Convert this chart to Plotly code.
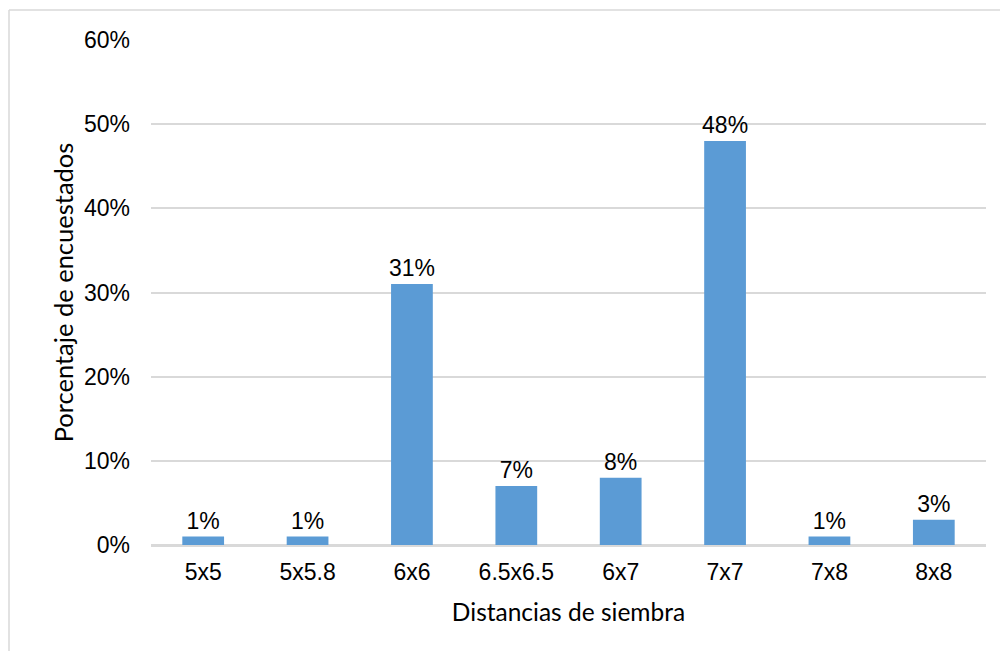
import plotly.graph_objects as go

# Survey results: planting distances used by respondents
distancias = ["5x5", "5x5.8", "6x6", "6.5x6.5", "6x7", "7x7", "7x8", "8x8"]
porcentaje = [0.01, 0.01, 0.31, 0.07, 0.08, 0.48, 0.01, 0.03]
y_ticks = [0, 0.1, 0.2, 0.3, 0.4, 0.5, 0.6]

W, H = 1000, 651
M_L, M_R, M_T, M_B = 151, 14, 40, 106
GRID = "#d9d9d9"
BAR = "#5b9bd5"
TICK_FONT = dict(family="Liberation Sans, Arial, sans-serif", size=23, color="#000000")
X_TITLE_FONT = dict(family="Lato, Calibri, sans-serif", size=24.5, color="#000000")
Y_TITLE_FONT = dict(family="Lato, Calibri, sans-serif", size=25.5, color="#000000")

fig = go.Figure(
    go.Bar(
        x=distancias,
        y=porcentaje,
        marker=dict(color=BAR, line=dict(width=0)),
        texttemplate="%{y:.0%}",
        textposition="outside",
        constraintext="none",
        textfont=TICK_FONT,
        cliponaxis=False,
        hoverinfo="skip",
    )
)

plot_w = W - M_L - M_R
plot_h = H - M_T - M_B


def px_x(px):
    return (px - M_L) / plot_w


def px_y(py):
    return 1 - (py - M_T) / plot_h


# Thin frame around the chart (top and left edges)
frame = dict(color=GRID, width=1.5)
fig.add_shape(type="line", xref="paper", yref="paper",
              x0=px_x(9), x1=px_x(W + 5), y0=px_y(10), y1=px_y(10), line=frame)
fig.add_shape(type="line", xref="paper", yref="paper",
              x0=px_x(9), x1=px_x(9), y0=px_y(10), y1=px_y(H + 5), line=frame)

fig.update_layout(
    width=W,
    height=H,
    margin=dict(l=M_L, r=M_R, t=M_T, b=M_B),
    paper_bgcolor="#ffffff",
    plot_bgcolor="#ffffff",
    bargap=0.6,
    showlegend=False,
    xaxis=dict(
        title=dict(text="Distancias de siembra", font=X_TITLE_FONT, standoff=20),
        tickfont=TICK_FONT,
        showgrid=False,
        showline=True,
        linecolor=GRID,
        linewidth=1.5,
        ticks="",
        ticklabelstandoff=6,
    ),
    yaxis=dict(
        title=dict(text="Porcentaje de encuestados", font=Y_TITLE_FONT, standoff=3),
        tickfont=TICK_FONT,
        range=[0, 0.6],
        tickvals=y_ticks,
        tickformat=".0%",
        showgrid=True,
        gridcolor=GRID,
        gridwidth=1.5,
        zeroline=True,
        zerolinecolor=GRID,
        zerolinewidth=1.5,
        showline=False,
        ticks="",
        ticklabelstandoff=20,
    ),
)

fig.write_html("out.html")
